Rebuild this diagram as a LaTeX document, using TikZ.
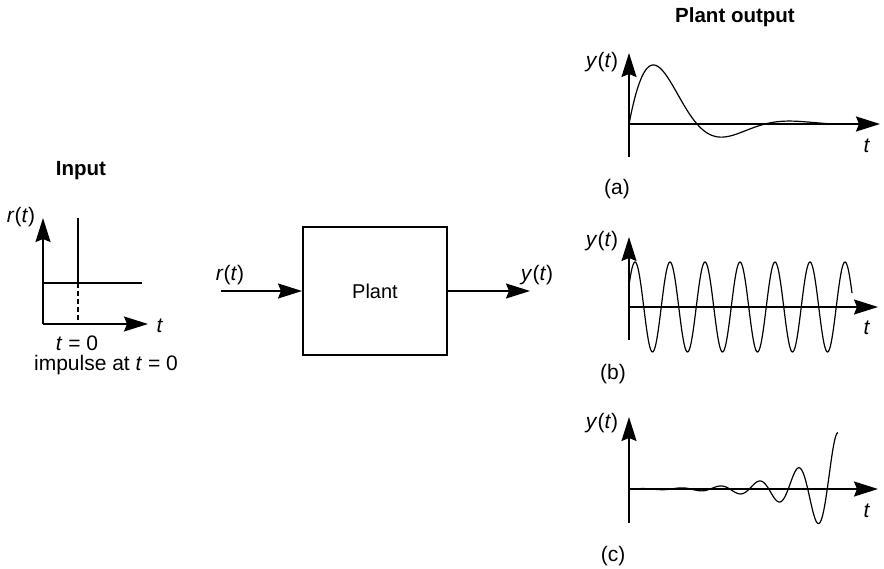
\documentclass[tikz,border=0pt]{standalone}
\usepackage{fontspec}
\setmainfont{Liberation Sans}
\usetikzlibrary{arrows.meta}
\begin{document}
\begin{tikzpicture}[x=1pt,y=-1pt,
  lbl/.style={inner sep=0pt, font=\fontsize{21}{24}\selectfont},
  ttl/.style={inner sep=0pt, font=\fontsize{20.5}{24}\selectfont\bfseries},
  axis/.style={line width=1.8pt, -{Stealth[length=24pt,width=15pt,inset=3pt]}},
  sig/.style={line width=1.2pt},
  arr/.style={line width=1.6pt, -{Stealth[length=24pt,width=15pt,inset=3pt]}},
  plantbox/.style={draw, line width=2pt, minimum width=144pt, minimum height=128pt, inner sep=0pt, font=\fontsize{20}{24}\selectfont}]
\useasboundingbox (0,0) rectangle (884,569);

% ---------- Input plot ----------
\node[ttl] (inTitle) at (81,171) {Input};
\coordinate (iO) at (43,324);
\coordinate (iY) at (43,218);
\coordinate (iX) at (148,324);
\draw[axis] (iO) -- (iY);
\draw[axis] (iO) -- (iX);
\node[lbl] (irt) at (21,217) {\textit{r}(\textit{t})};
\node[lbl] (it) at (160,326) {\textit{t}};
\coordinate (impTop) at (78,218);
\coordinate (impMid) at (78,283);
\coordinate (impBot) at (78,324);
\coordinate (lvlL) at (43,283);
\coordinate (lvlR) at (142,283);
\draw[sig] (impTop) -- (impMid);
\draw[sig, dashed, dash pattern=on 5pt off 3pt] (impMid) -- (impBot);
\draw[sig] (lvlL) -- (lvlR);
\node[lbl] (t0) at (77,343) {\textit{t} = 0};
\node[lbl] (imp) at (106,365) {impulse at \textit{t} = 0};

% ---------- Plant block ----------
\node[plantbox] (plant) at (375,291) {Plant};
\coordinate (inStart) at (221,291);
\coordinate (outEnd) at (530,291);
\draw[arr] (inStart) -- (plant.west);
\draw[arr] (plant.east) -- (outEnd);
\node[lbl] (prt) at (230,275) {\textit{r}(\textit{t})};
\node[lbl] (pyt) at (537,275) {\textit{y}(\textit{t})};

% ---------- Plant output title ----------
\node[ttl] (outTitle) at (735,17) {Plant output};

% ---------- (a) ----------
\coordinate (aO) at (629,124);
\coordinate (aB) at (629,157);
\coordinate (aY) at (629,53);
\coordinate (aX) at (880,124);
\draw[axis] (aB) -- (aY);
\draw[axis] (aO) -- (aX);
\draw[sig] plot[domain=0:210, samples=220, smooth] ({629+\x},{124-112*exp(-0.0221*\x)*sin(\x*2.647)});
\node[lbl] (ayt) at (602,62) {\textit{y}(\textit{t})};
\node[lbl] (at) at (867,146) {\textit{t}};
\node[lbl] (alab) at (617,189) {(a)};

% ---------- (b) ----------
\coordinate (bO) at (629,307);
\coordinate (bB) at (629,340);
\coordinate (bY) at (629,237);
\coordinate (bX) at (878,307);
\draw[axis] (bB) -- (bY);
\draw[axis] (bO) -- (bX);
\draw[sig] plot[domain=0:223, samples=300, smooth] ({629+\x},{307-45*cos((\x-6)*10.2857)});
\node[lbl] (byt) at (602,241) {\textit{y}(\textit{t})};
\node[lbl] (bt) at (867,328) {\textit{t}};
\node[lbl] (blab) at (613,374) {(b)};

% ---------- (c) ----------
\coordinate (cO) at (629,489);
\coordinate (cB) at (629,523);
\coordinate (cY) at (629,417);
\coordinate (cX) at (878,489);
\draw[axis] (cB) -- (cY);
\draw[axis] (cO) -- (cX);
\draw[sig] plot[domain=0:209, samples=300, smooth] ({629+\x},{489-21*exp(0.025*(\x-169))*sin((\x-169)*9.2308+90)});
\node[lbl] (cyt) at (602,423) {\textit{y}(\textit{t})};
\node[lbl] (ct) at (867,511) {\textit{t}};
\node[lbl] (clab) at (613,556) {(c)};
\end{tikzpicture}
\end{document}
